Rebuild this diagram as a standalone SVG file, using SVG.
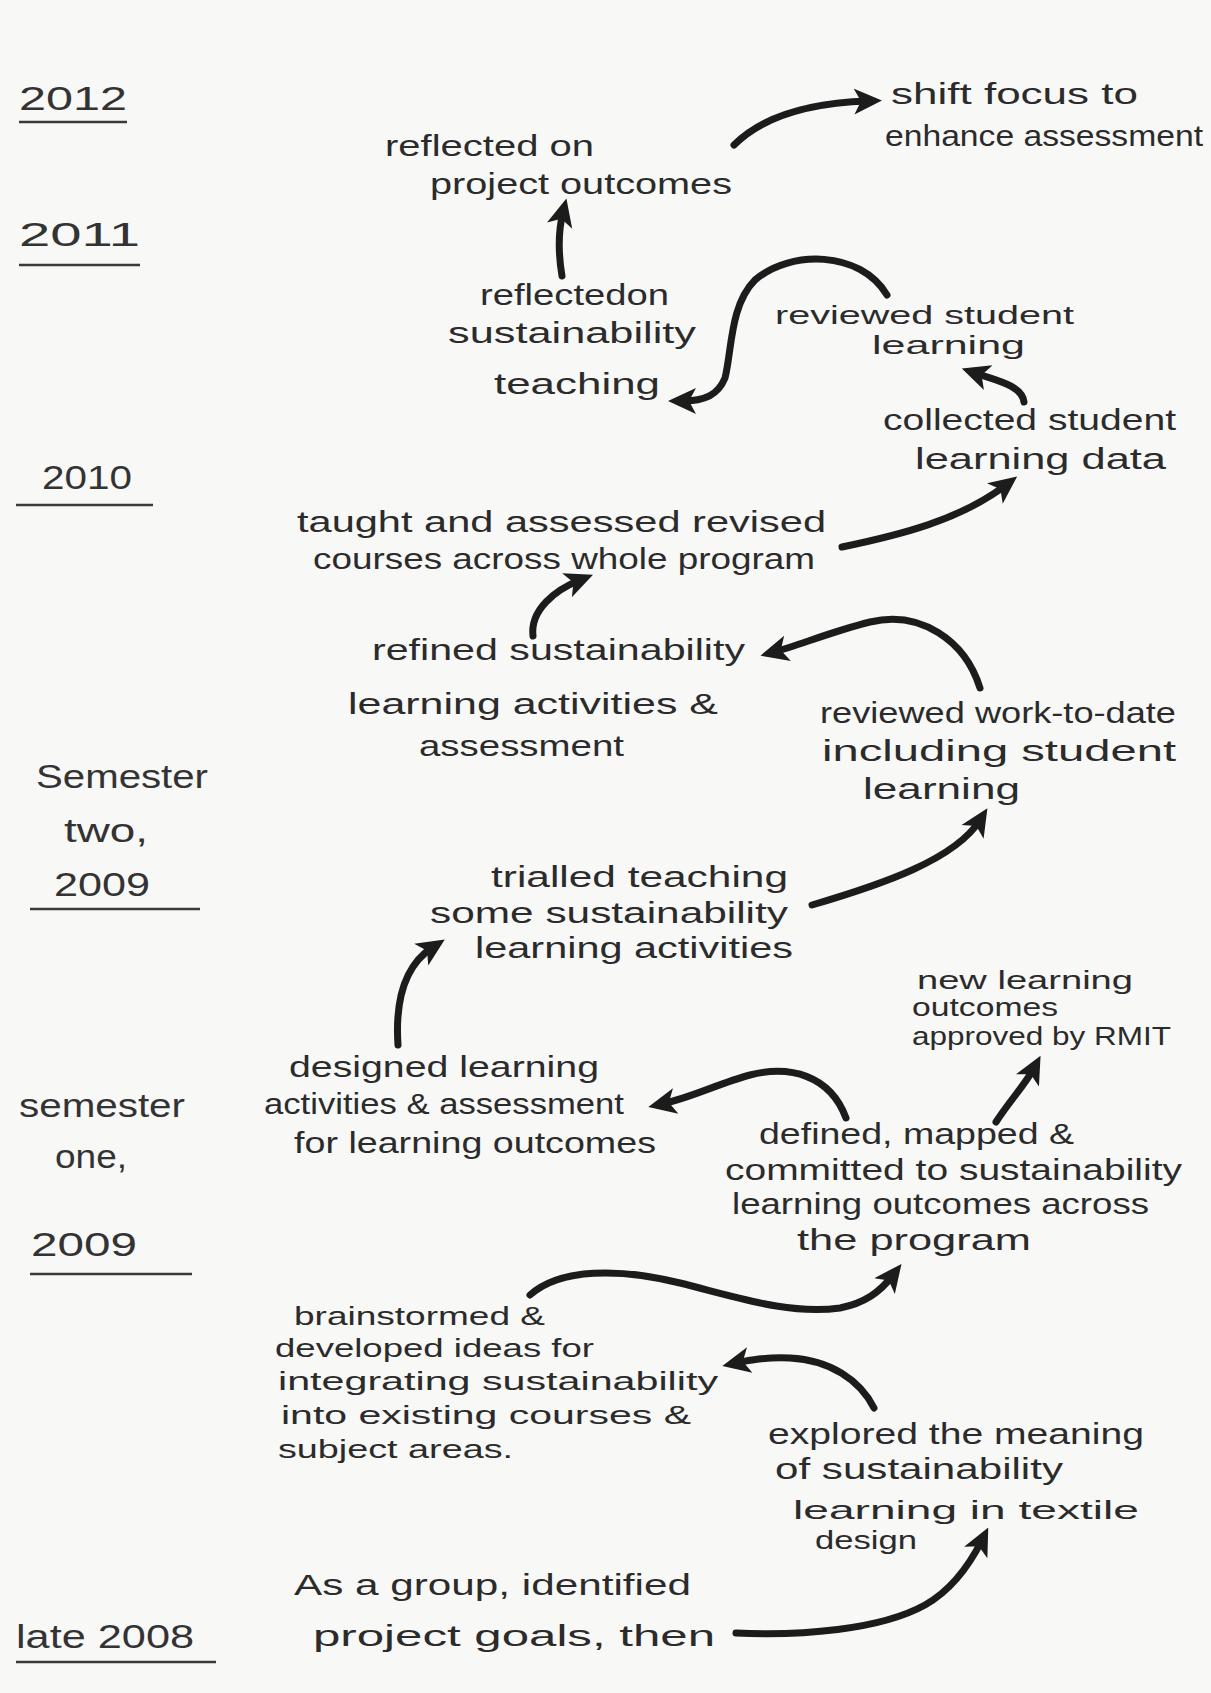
<svg xmlns="http://www.w3.org/2000/svg" width="1211" height="1693" viewBox="0 0 1211 1693">
  <style>
    .t { font-family: "Liberation Sans", "DejaVu Sans", sans-serif; font-size: 30px; fill: #2b2b2b; }
    .s { font-size: 25px; }
    .yr { font-family: "Liberation Sans", "DejaVu Sans", sans-serif; font-size: 34px; fill: #333; }
    .ul { stroke: #3a3a3a; stroke-width: 2.5; fill: none; }
    .arrow { stroke: #1c1c1c; stroke-width: 7; fill: none; stroke-linecap: round; stroke-linejoin: round; marker-end: url(#head); }
  </style>
  <defs>
    <marker id="head" markerUnits="userSpaceOnUse" viewBox="0 0 28 28" markerWidth="28" markerHeight="28" refX="14" refY="14" orient="auto">
      <path d="M0,1 L28,14 L0,27 L7,14 z" fill="#1c1c1c"/>
    </marker>
  </defs>

  <!-- paper -->
  <rect x="0" y="0" width="1211" height="1693" fill="#f8f8f7"/>

  <!-- timeline labels on the left -->
  <g id="year-2012">
    <text class="yr" x="19" y="110" textLength="108" lengthAdjust="spacingAndGlyphs">2012</text>
    <line class="ul" x1="19" y1="122" x2="127" y2="122"/>
  </g>
  <g id="year-2011">
    <text class="yr" x="19" y="246" textLength="121" lengthAdjust="spacingAndGlyphs">2011</text>
    <line class="ul" x1="19" y1="265" x2="140" y2="265"/>
  </g>
  <g id="year-2010">
    <text class="yr" x="42" y="489" textLength="90" lengthAdjust="spacingAndGlyphs">2010</text>
    <line class="ul" x1="16" y1="505" x2="153" y2="505"/>
  </g>
  <g id="semester-two-2009">
    <text class="yr" x="36" y="788" textLength="172" lengthAdjust="spacingAndGlyphs">Semester</text>
    <text class="yr" x="64" y="842" textLength="84" lengthAdjust="spacingAndGlyphs">two,</text>
    <text class="yr" x="54" y="896" textLength="96" lengthAdjust="spacingAndGlyphs">2009</text>
    <line class="ul" x1="30" y1="909" x2="200" y2="909"/>
  </g>
  <g id="semester-one-2009">
    <text class="yr" x="19" y="1117" textLength="166" lengthAdjust="spacingAndGlyphs">semester</text>
    <text class="yr" x="55" y="1168" textLength="72" lengthAdjust="spacingAndGlyphs">one,</text>
    <text class="yr" x="31" y="1256" textLength="106" lengthAdjust="spacingAndGlyphs">2009</text>
    <line class="ul" x1="30" y1="1274" x2="192" y2="1274"/>
  </g>
  <g id="late-2008">
    <text class="yr" x="16" y="1648" textLength="178" lengthAdjust="spacingAndGlyphs">late 2008</text>
    <line class="ul" x1="16" y1="1662" x2="216" y2="1662"/>
  </g>

  <!-- activity nodes -->
  <g id="shift-focus">
    <text class="t" x="891" y="104" textLength="247" lengthAdjust="spacingAndGlyphs">shift focus to</text>
    <text class="t" x="885" y="146" textLength="318" lengthAdjust="spacingAndGlyphs">enhance assessment</text>
  </g>
  <g id="reflected-project">
    <text class="t" x="385" y="156" textLength="209" lengthAdjust="spacingAndGlyphs">reflected on</text>
    <text class="t" x="430" y="194" textLength="302" lengthAdjust="spacingAndGlyphs">project outcomes</text>
  </g>
  <g id="reflected-teaching">
    <text class="t" x="480" y="305" textLength="189" lengthAdjust="spacingAndGlyphs">reflectedon</text>
    <text class="t" x="448" y="343" textLength="248" lengthAdjust="spacingAndGlyphs">sustainability</text>
    <text class="t" x="494" y="394" textLength="166" lengthAdjust="spacingAndGlyphs">teaching</text>
  </g>
  <g id="reviewed-student">
    <text class="t s" x="775" y="324" textLength="299" lengthAdjust="spacingAndGlyphs">reviewed student</text>
    <text class="t s" x="872" y="354" textLength="153" lengthAdjust="spacingAndGlyphs">learning</text>
  </g>
  <g id="collected-data">
    <text class="t" x="883" y="430" textLength="293" lengthAdjust="spacingAndGlyphs">collected student</text>
    <text class="t" x="915" y="469" textLength="251" lengthAdjust="spacingAndGlyphs">learning data</text>
  </g>
  <g id="taught-assessed">
    <text class="t" x="297" y="532" textLength="529" lengthAdjust="spacingAndGlyphs">taught and assessed revised</text>
    <text class="t" x="313" y="569" textLength="502" lengthAdjust="spacingAndGlyphs">courses across whole program</text>
  </g>
  <g id="refined-activities">
    <text class="t" x="372" y="660" textLength="373" lengthAdjust="spacingAndGlyphs">refined sustainability</text>
    <text class="t" x="348" y="714" textLength="370" lengthAdjust="spacingAndGlyphs">learning activities &amp;</text>
    <text class="t" x="419" y="756" textLength="205" lengthAdjust="spacingAndGlyphs">assessment</text>
  </g>
  <g id="reviewed-work">
    <text class="t" x="820" y="723" textLength="356" lengthAdjust="spacingAndGlyphs">reviewed work-to-date</text>
    <text class="t" x="822" y="761" textLength="354" lengthAdjust="spacingAndGlyphs">including student</text>
    <text class="t" x="863" y="799" textLength="157" lengthAdjust="spacingAndGlyphs">learning</text>
  </g>
  <g id="trialled-teaching">
    <text class="t" x="491" y="887" textLength="297" lengthAdjust="spacingAndGlyphs">trialled teaching</text>
    <text class="t" x="430" y="923" textLength="358" lengthAdjust="spacingAndGlyphs">some sustainability</text>
    <text class="t" x="475" y="958" textLength="318" lengthAdjust="spacingAndGlyphs">learning activities</text>
  </g>
  <g id="outcomes-approved">
    <text class="t s" x="917" y="989" textLength="216" lengthAdjust="spacingAndGlyphs">new learning</text>
    <text class="t s" x="912" y="1016" textLength="146" lengthAdjust="spacingAndGlyphs">outcomes</text>
    <text class="t s" x="912" y="1045" textLength="259" lengthAdjust="spacingAndGlyphs">approved by RMIT</text>
  </g>
  <g id="designed-activities">
    <text class="t" x="289" y="1077" textLength="310" lengthAdjust="spacingAndGlyphs">designed learning</text>
    <text class="t" x="264" y="1114" textLength="360" lengthAdjust="spacingAndGlyphs">activities &amp; assessment</text>
    <text class="t" x="294" y="1153" textLength="362" lengthAdjust="spacingAndGlyphs">for learning outcomes</text>
  </g>
  <g id="defined-outcomes">
    <text class="t" x="759" y="1144" textLength="315" lengthAdjust="spacingAndGlyphs">defined, mapped &amp;</text>
    <text class="t" x="725" y="1180" textLength="457" lengthAdjust="spacingAndGlyphs">committed to sustainability</text>
    <text class="t" x="732" y="1214" textLength="417" lengthAdjust="spacingAndGlyphs">learning outcomes across</text>
    <text class="t" x="797" y="1250" textLength="234" lengthAdjust="spacingAndGlyphs">the program</text>
  </g>
  <g id="brainstormed-ideas">
    <text class="t s" x="294" y="1325" textLength="251" lengthAdjust="spacingAndGlyphs">brainstormed &amp;</text>
    <text class="t s" x="275" y="1357" textLength="319" lengthAdjust="spacingAndGlyphs">developed ideas for</text>
    <text class="t s" x="278" y="1390" textLength="440" lengthAdjust="spacingAndGlyphs">integrating sustainability</text>
    <text class="t s" x="281" y="1424" textLength="410" lengthAdjust="spacingAndGlyphs">into existing courses &amp;</text>
    <text class="t s" x="278" y="1458" textLength="235" lengthAdjust="spacingAndGlyphs">subject areas.</text>
  </g>
  <g id="explored-meaning">
    <text class="t" x="768" y="1444" textLength="376" lengthAdjust="spacingAndGlyphs">explored the meaning</text>
    <text class="t" x="775" y="1479" textLength="288" lengthAdjust="spacingAndGlyphs">of sustainability</text>
    <text class="t s" x="793" y="1519" textLength="346" lengthAdjust="spacingAndGlyphs">learning in textile</text>
    <text class="t s" x="815" y="1549" textLength="102" lengthAdjust="spacingAndGlyphs">design</text>
  </g>
  <g id="identified-goals">
    <text class="t" x="294" y="1595" textLength="397" lengthAdjust="spacingAndGlyphs">As a group, identified</text>
    <text class="t" x="313" y="1646" textLength="402" lengthAdjust="spacingAndGlyphs">project goals, then</text>
  </g>

  <!-- hand-drawn connectors -->
  <g id="connectors">
    <path class="arrow" d="M 734 145 Q 775 104 868 101"/>
    <path class="arrow" d="M 562 276 Q 556 240 563 212"/>
    <path class="arrow" d="M 887 295 C 860 250, 790 250, 755 280 C 730 305, 732 350, 725 378 C 718 395, 705 401, 682 401"/>
    <path class="arrow" d="M 1024 402 C 1022 385, 995 380, 975 373"/>
    <path class="arrow" d="M 842 547 C 900 535, 960 520, 1006 485"/>
    <path class="arrow" d="M 533 636 C 530 610, 555 590, 580 580"/>
    <path class="arrow" d="M 980 688 C 965 640, 920 610, 870 622 C 830 632, 800 645, 774 652"/>
    <path class="arrow" d="M 812 905 C 880 885, 955 860, 980 820"/>
    <path class="arrow" d="M 398 1045 C 395 1000, 405 965, 433 947"/>
    <path class="arrow" d="M 846 1118 C 830 1075, 790 1065, 750 1075 C 720 1083, 690 1098, 662 1104"/>
    <path class="arrow" d="M 996 1122 C 1010 1100, 1025 1085, 1034 1068"/>
    <path class="arrow" d="M 530 1295 C 560 1268, 620 1268, 680 1283 C 740 1298, 790 1315, 840 1308 C 865 1303, 880 1292, 893 1275"/>
    <path class="arrow" d="M 874 1408 C 860 1380, 830 1360, 790 1358 C 765 1357, 750 1360, 736 1363"/>
    <path class="arrow" d="M 736 1633 C 800 1636, 880 1630, 925 1605 C 955 1588, 972 1560, 982 1540"/>
  </g>
</svg>
